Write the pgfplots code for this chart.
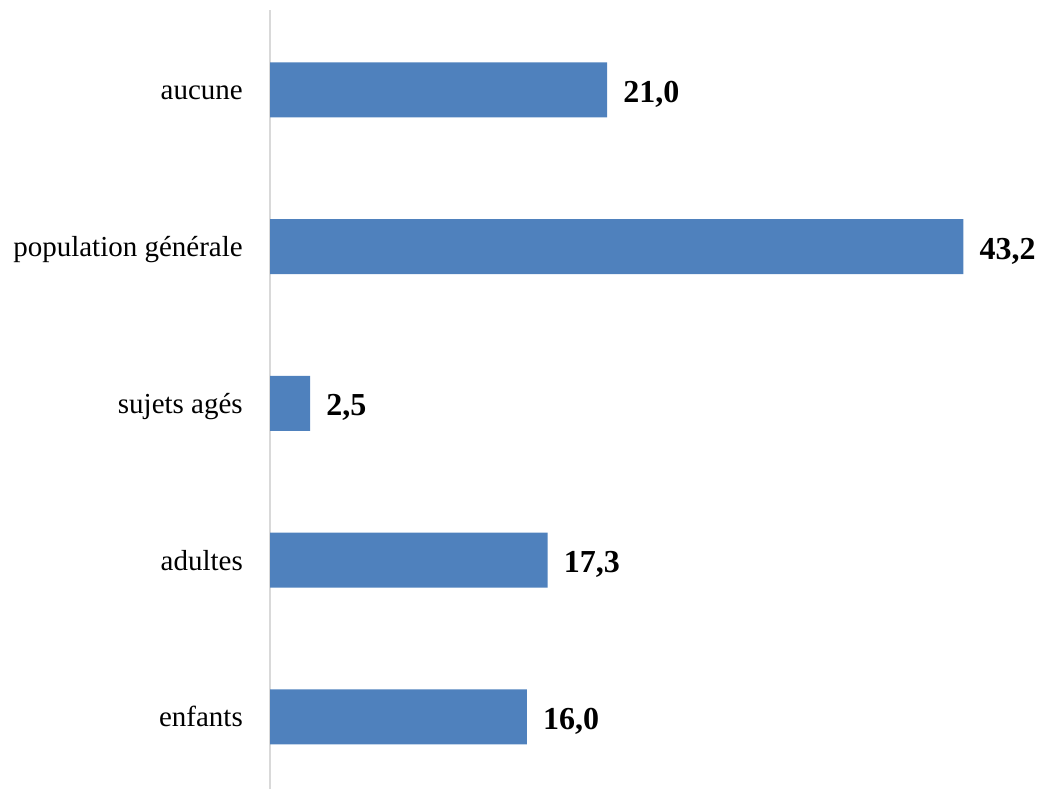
\documentclass[border=0pt]{standalone}
\usepackage{pgfplots}
\pgfplotsset{compat=1.18}
\usepackage{fontspec}
\setmainfont{Liberation Serif}
\definecolor{barblue}{HTML}{4F81BD}
\definecolor{axisgray}{HTML}{D9D9D9}
\begin{document}
\begin{tikzpicture}
\path[use as bounding box] (0,0) rectangle (1043pt,789pt);
\begin{axis}[
  at={(270pt,0pt)}, anchor=south west,
  scale only axis, width=770.4pt, height=779pt,
  xbar, bar width=55pt,
  xmin=0, xmax=48, ymin=-0.46, ymax=4.51,
  enlargelimits=false,
  axis x line=none,
  axis y line*=left,
  y axis line style={axisgray, line width=1.5pt, -},
  ytick={0,1,2,3,4},
  yticklabels={enfants, adultes, sujets agés, population générale, aucune},
  major tick length=0pt,
  yticklabel style={font=\fontsize{29}{34}\selectfont, inner sep=0pt,
    anchor=base east, xshift=-27pt, yshift=-10pt},
  point meta=x,
  nodes near coords={\pgfmathprintnumber[fixed, fixed zerofill, precision=1, use comma, assume math mode=true]{\pgfplotspointmeta}},
  nodes near coords style={font=\fontsize{32}{38}\selectfont\bfseries,
    anchor=base west, inner sep=0pt, xshift=16pt, yshift=-12.5pt, text=black},
]
\addplot[fill=barblue, draw=none] coordinates {(16.0,0) (17.3,1) (2.5,2) (43.2,3) (21.0,4)};
\end{axis}
\end{tikzpicture}
\end{document}
